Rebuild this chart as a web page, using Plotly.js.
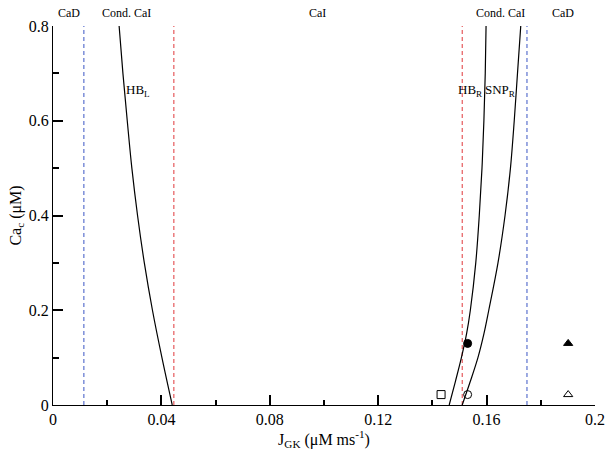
<!DOCTYPE html>
<html>
<head>
<meta charset="utf-8">
<script src="https://cdn.plot.ly/plotly-3.0.1.min.js"></script>
<style>
  body { margin: 0; background: #fff; }
  #chart { width: 612px; height: 457px; }
</style>
</head>
<body>
<div id="chart"></div>
<script>
// Bifurcation curves (Ca_c -> J_GK)
const curveY = [0, 0.1, 0.2, 0.3, 0.4, 0.5, 0.6, 0.7, 0.8];
const hbLeftX = [0.0440, 0.0402, 0.0367, 0.0337, 0.0312, 0.0291, 0.0274, 0.0258, 0.0244];

const rightY = [0, 0.05, 0.1, 0.15, 0.2, 0.3, 0.4, 0.5, 0.6, 0.7, 0.8];
const hbRightX = [0.1462, 0.1485, 0.1507, 0.1526, 0.1540, 0.1560, 0.1573, 0.1583, 0.1590, 0.1595, 0.1598];
const snpRightX = [0.1510, 0.1540, 0.1568, 0.1590, 0.1608, 0.1642, 0.1668, 0.1688, 0.1702, 0.1714, 0.1726];

// Region boundaries (dashed verticals)
const blueBounds = [0.0114, 0.1749];
const redBounds = [0.0446, 0.1510];
const yRange = [0, 0.8];

// Marked points
const markX = [0.1432, 0.1530, 0.1530, 0.1901, 0.1901];
const markY = [0.022, 0.022, 0.130, 0.130, 0.022];
const markSymbols = ['square-open', 'circle-open', 'circle', 'triangle-up', 'triangle-up-open'];

// Region labels along the top
const regionNames = ['CaD', 'Cond. CaI', 'CaI', 'Cond. CaI', 'CaD'];
const regionX = [0.0058, 0.0272, 0.0977, 0.165, 0.1882];

// Curve labels
const curveLabels = ['HB<sub>L</sub>', 'HB<sub>R</sub>', 'SNP<sub>R</sub>'];
const curveLabelX = [0.0312, 0.1542, 0.1650];
const curveLabelY = [0.663, 0.663, 0.663];

const font = 'Liberation Serif';

function vline(x, color) {
    return {
        x: [x, x], y: yRange, mode: 'lines', type: 'scatter',
        line: { color: color, width: 1, dash: '4px,3px' },
        hoverinfo: 'skip', showlegend: false
    };
}

const traces = [];
blueBounds.forEach(x => traces.push(vline(x, '#3b55c4')));
redBounds.forEach(x => traces.push(vline(x, '#e0383a')));

traces.push({
    x: hbLeftX, y: curveY, mode: 'lines', type: 'scatter',
    line: { shape: 'spline', color: 'black', width: 1.2 }, showlegend: false
});
[hbRightX, snpRightX].forEach(xs => traces.push({
    x: xs, y: rightY, mode: 'lines', type: 'scatter',
    line: { shape: 'spline', color: 'black', width: 1.2 }, showlegend: false
}));

traces.push({
    x: markX, y: markY, mode: 'markers', type: 'scatter',
    marker: { symbol: markSymbols, size: 8, color: 'black', line: { color: 'black', width: 1 } },
    showlegend: false
});

const annotations = [];
regionNames.forEach((name, i) => annotations.push({
    x: regionX[i], xref: 'x', y: 1, yref: 'paper', yanchor: 'bottom', yshift: 4,
    text: name, showarrow: false, font: { family: font, size: 12, color: 'black' }
}));
curveLabels.forEach((t, i) => annotations.push({
    x: curveLabelX[i], y: curveLabelY[i], xref: 'x', yref: 'y',
    text: t, showarrow: false, font: { family: font, size: 13, color: 'black' }
}));

const layout = {
    width: 612, height: 457,
    margin: { l: 53, r: 17, t: 26, b: 52 },
    paper_bgcolor: 'white', plot_bgcolor: 'white',
    font: { family: font, size: 16, color: 'black' },
    xaxis: {
        range: [0, 0.2], dtick: 0.04, tick0: 0,
        showgrid: false, zeroline: false,
        showline: true, linecolor: 'black', linewidth: 1,
        ticks: 'inside', ticklen: 10, tickwidth: 1.5, tickcolor: 'black',
        minor: { dtick: 0.02, ticks: 'inside', ticklen: 5, tickwidth: 1.5, tickcolor: 'black', showgrid: false },
        title: { text: 'J<sub>GK</sub> (μM ms<sup>-1</sup>)', font: { family: font, size: 16 }, standoff: 5 }
    },
    yaxis: {
        range: [0, 0.8], dtick: 0.2, tick0: 0,
        showgrid: false, zeroline: false,
        showline: true, linecolor: 'black', linewidth: 1,
        ticks: 'inside', ticklen: 10, tickwidth: 1.5, tickcolor: 'black',
        minor: { dtick: 0.1, ticks: 'inside', ticklen: 6, tickwidth: 1.5, tickcolor: 'black', showgrid: false },
        title: { text: 'Ca<sub>c</sub> (μM)', font: { family: font, size: 16 }, standoff: 3 }
    },
    annotations: annotations
};

Plotly.newPlot('chart', traces, layout, { displayModeBar: false });
</script>
</body>
</html>
